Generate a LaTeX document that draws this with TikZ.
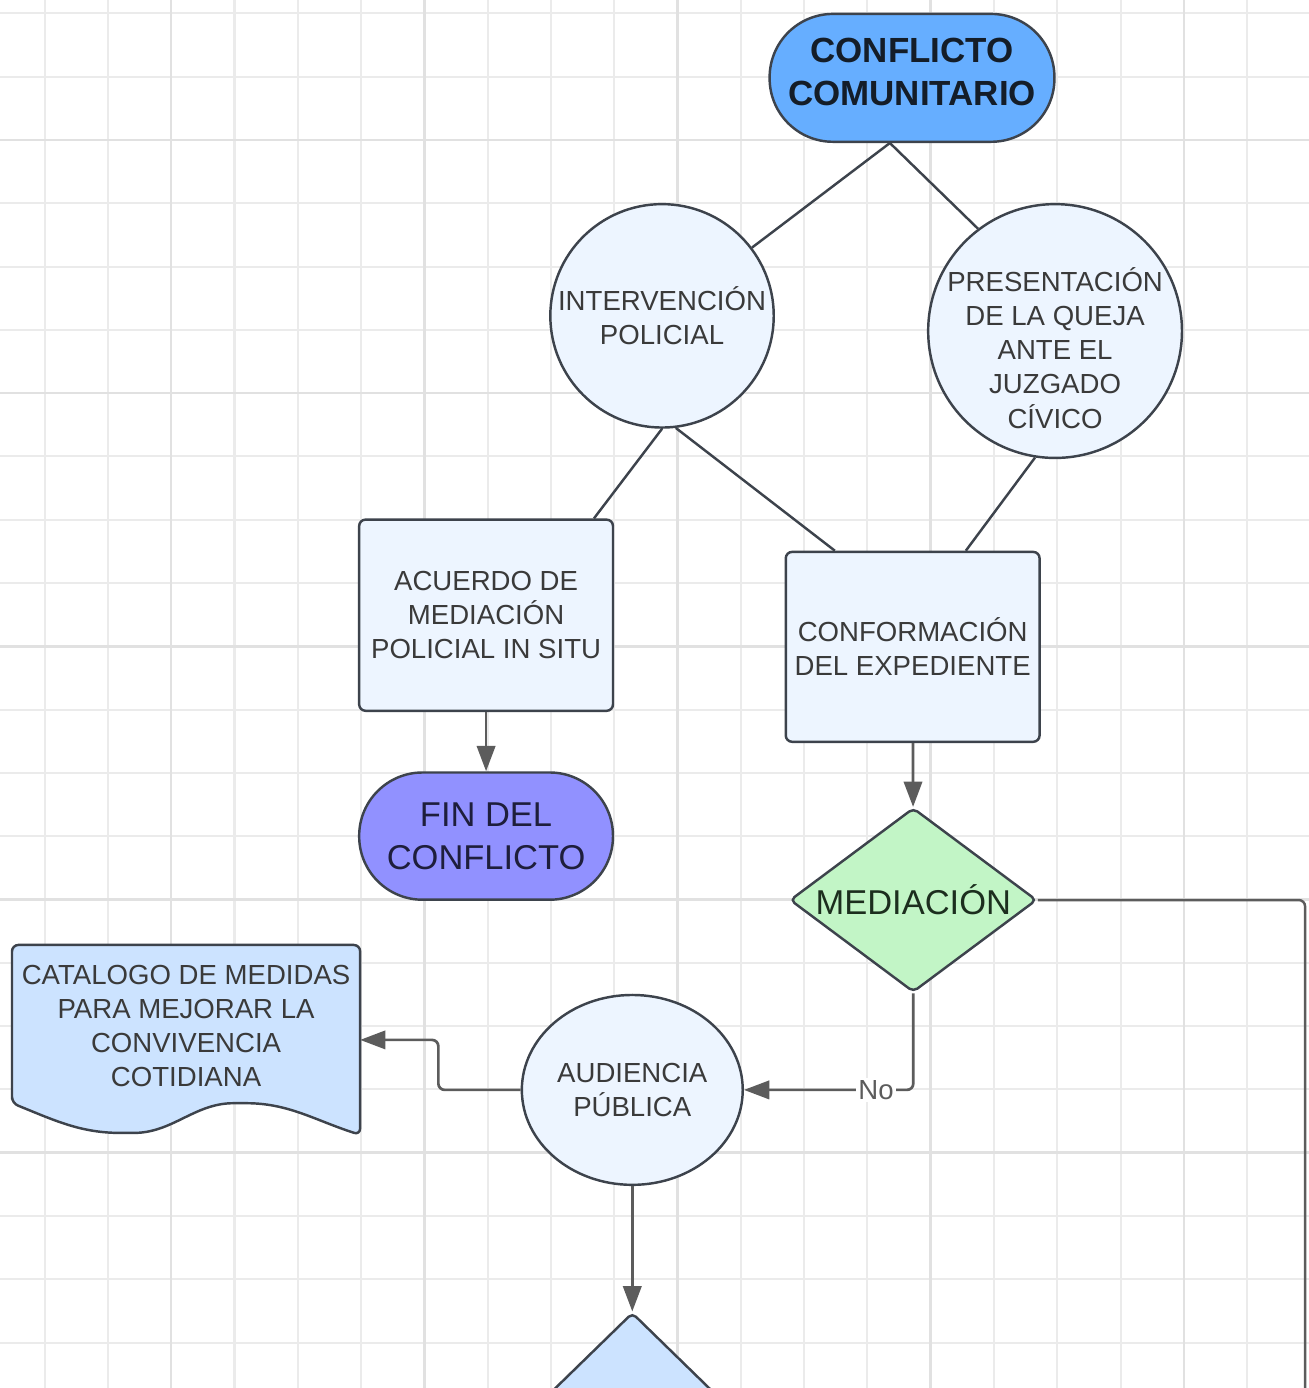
\documentclass[tikz,border=0pt]{standalone}
\usepackage{fontspec}
\setmainfont{Liberation Sans}
\usetikzlibrary{arrows.meta,shapes.geometric}

\definecolor{bordegris}{HTML}{3D434C}
\definecolor{lineagris}{HTML}{5C5C5C}
\definecolor{azulfuerte}{HTML}{66AEFF}
\definecolor{azulclaro}{HTML}{EDF5FF}
\definecolor{azuldoc}{HTML}{CCE3FF}
\definecolor{morado}{HTML}{9191FF}
\definecolor{verdeclaro}{HTML}{C2F5C6}
\definecolor{textogris}{HTML}{3A3A3A}
\definecolor{textonegro}{HTML}{141D28}
\definecolor{textomorado}{HTML}{1E1E3C}
\definecolor{textoverde}{HTML}{1C2E1E}
\definecolor{cuadricula}{HTML}{EBEBEB}
\definecolor{cuadriculafuerte}{HTML}{E1E1E1}

\tikzset{texto/.style = {align=center, font=\fontsize{12.4}{15.3}\selectfont, text=textogris}}
\tikzset{textogrande/.style = {align=center, font=\fontsize{15.5}{19.3}\selectfont}}
\tikzset{borde/.style = {draw=bordegris, line width=1.1pt}}
\tikzset{caja/.style = {shape=rectangle, borde, fill=azulclaro, rounded corners=0.1cm, minimum width=4.01cm, texto}}
\tikzset{terminal/.style = {shape=rectangle, borde, rounded corners=1cm, minimum width=4.01cm, minimum height=2.01cm, textogrande}}
\tikzset{circulo/.style = {shape=circle, borde, fill=azulclaro, inner sep=0pt}}
\tikzset{elipse/.style = {shape=ellipse, borde, fill=azulclaro, inner sep=0pt}}
\tikzset{decision/.style = {shape=diamond, borde, rounded corners=0.08cm, inner sep=0pt}}
\tikzset{documento/.style = {borde, fill=azuldoc, rounded corners=0.1cm}}
\tikzset{linea/.style = {draw=bordegris, line width=1.1pt}}
\tikzset{edge/.style = {->, > = {Triangle[length=0.4cm, width=0.29cm]}, draw=lineagris, line width=1.2pt}}
\tikzset{etiqueta/.style = {fill=white, inner sep=1pt, texto, text=lineagris}}
\tikzset{cuadro/.style = {draw=cuadricula, line width=0.9pt}}
\tikzset{cuadrofuerte/.style = {draw=cuadriculafuerte, line width=1.1pt}}

\begin{document}
\begin{tikzpicture}
		\useasboundingbox (0,0) rectangle (20.68,-21.93);
		\fill[white] (0,0) rectangle (20.68,-21.93);
		
		% cuadricula
		\foreach \i in {0,...,20}
			\draw[cuadro] ({0.705+\i},0) -- ({0.705+\i},-21.93);
		\foreach \j in {0,...,21}
			\draw[cuadro] (0,{-0.212-\j}) -- (20.68,{-0.212-\j});
		\foreach \i in {2,6,10,14,18}
			\draw[cuadrofuerte] ({0.705+\i},0) -- ({0.705+\i},-21.93);
		\foreach \j in {2,6,10,14,18}
			\draw[cuadrofuerte] (0,{-0.212-\j}) -- (20.68,{-0.212-\j});
		
		% documento
		\draw[documento] (0.19,-17.43) -- (0.19,-14.93) -- (5.69,-14.93) -- (5.69,-17.93)
			to[out=162,in=0] (3.79,-17.43) to[out=180,in=0] (2.01,-17.90) to[out=180,in=-22] cycle;
		
		% nodos
		\node[terminal, fill=azulfuerte, minimum width=4.5cm, minimum height=2.02cm, text depth=0.2cm, font=\fontsize{15.7}{19.3}\bfseries, text=textonegro] (conflicto) at (14.41,-1.23) {CONFLICTO\\COMUNITARIO};
		\node[circulo, minimum size=3.53cm, label={[texto]center:{INTERVENCIÓN\\POLICIAL}}] (intervencion) at (10.46,-4.99) {};
		\node[circulo, minimum size=4.01cm, label={[texto, yshift=-0.27cm]center:{PRESENTACIÓN\\DE LA QUEJA\\ANTE EL\\JUZGADO\\CÍVICO}}] (presentacion) at (16.67,-5.23) {};
		\node[caja, minimum height=3.02cm] (acuerdo) at (7.68,-9.72) {ACUERDO DE\\MEDIACIÓN\\POLICIAL IN SITU};
		\node[caja, minimum height=3.00cm] (expediente) at (14.42,-10.22) {CONFORMACIÓN\\DEL EXPEDIENTE};
		\node[terminal, fill=morado, text=textomorado] (fin) at (7.68,-13.21) {FIN DEL\\CONFLICTO};
		\node[decision, fill=verdeclaro, minimum width=3.9cm, minimum height=2.91cm, label={[textogrande, text=textoverde]center:MEDIACIÓN}] (mediacion) at (14.43,-14.22) {};
		\node[texto, minimum width=5.5cm, inner sep=0pt, outer sep=0pt] (catalogo) at (2.94,-16.21) {CATALOGO DE MEDIDAS\\PARA MEJORAR LA\\CONVIVENCIA\\COTIDIANA};
		\node[elipse, minimum width=3.49cm, minimum height=3.0cm, label={[texto]center:{AUDIENCIA\\PÚBLICA}}] (audiencia) at (9.99,-17.22) {};
		\node[decision, fill=azuldoc, minimum width=4.0cm, minimum height=3.9cm] (juicio) at (9.99,-22.69) {};
		\coordinate (salida) at (20.62,-22.6);
		
		% conexiones
		\draw[linea] ([xshift=-0.35cm]conflicto.south) -- (intervencion);
		\draw[linea] ([xshift=-0.35cm]conflicto.south) -- (presentacion.127);
		\draw[linea] (intervencion.south) -- ([xshift=-0.32cm]acuerdo.north east);
		\draw[linea] (intervencion.277) -- ([xshift=-1.23cm]expediente.north);
		\draw[linea] (presentacion.261) -- ([xshift=0.84cm]expediente.north);
		\draw[edge] (acuerdo) -- (fin);
		\draw[edge] (expediente) -- (mediacion);
		\draw[linea, draw=lineagris, rounded corners=0.1cm] (mediacion.east) -| (salida);
		\draw[edge, rounded corners=0.1cm] (mediacion.south) |- node[pos=0.61, etiqueta] {No} (audiencia.east);
		\draw[edge, rounded corners=0.1cm] (audiencia.west) -- ++(-1.3,0) |- ([yshift=-0.22cm]catalogo.east);
		\draw[edge] (audiencia) -- (juicio);
	\end{tikzpicture}
\end{document}
